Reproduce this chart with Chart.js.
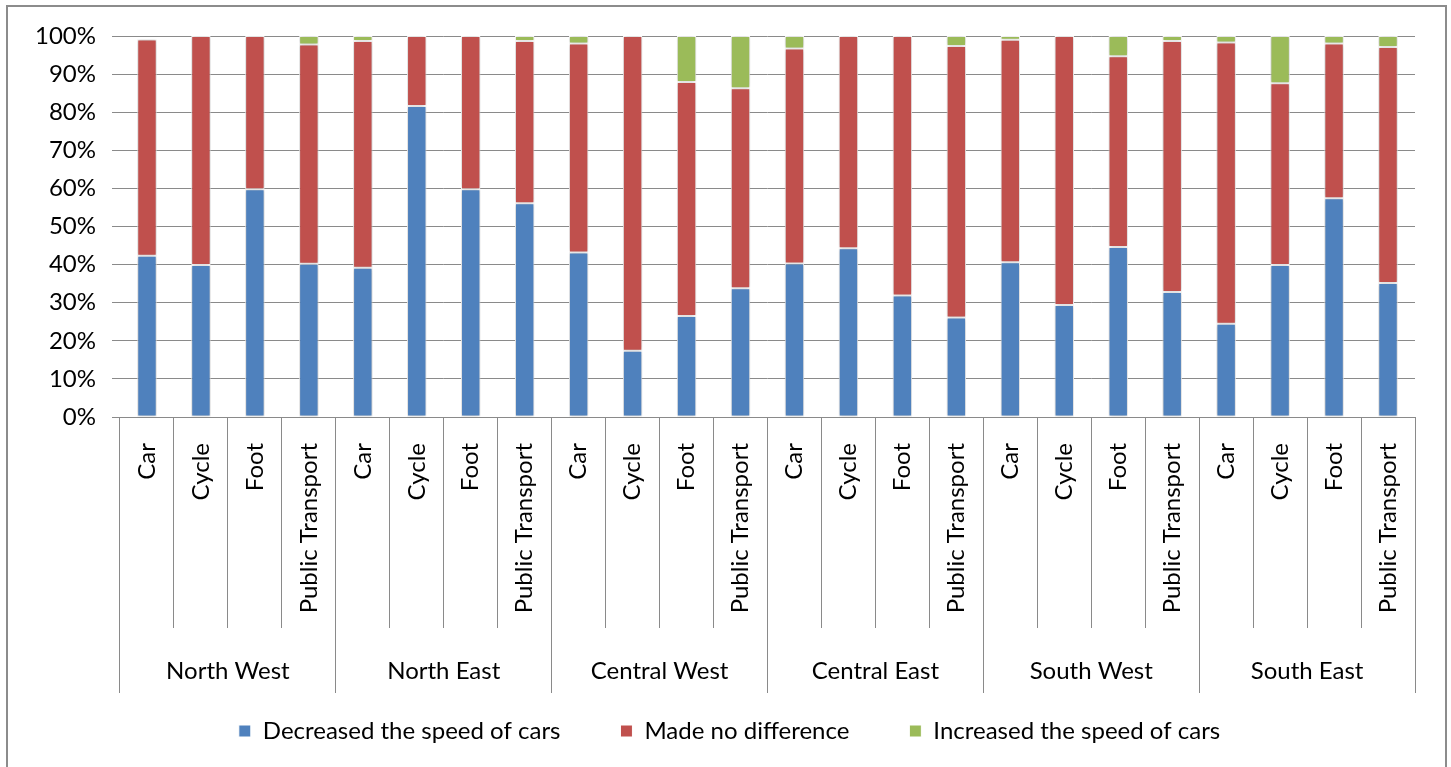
<!DOCTYPE html>
<html>
<head>
<meta charset="utf-8">
<script src="https://cdn.jsdelivr.net/npm/chart.js@4/dist/chart.umd.min.js"></script>
<style>
  html, body { margin: 0; padding: 0; background: #fff; overflow: hidden; }
  #wrap { position: relative; width: 1451px; height: 767px; }
  #frame {
    position: absolute; left: 6px; top: 5px; width: 1441px; height: 800px;
    border: 2px solid #8c8c8c; box-sizing: border-box;
  }
  canvas { position: absolute; left: 0; top: 0; }
</style>
</head>
<body>
<div id="wrap">
  <div id="frame"></div>
  <canvas id="chart" width="1451" height="767"></canvas>
</div>
<script>
// Regions and travel modes (each region shows the four modes)
const regions = ['North West', 'North East', 'Central West', 'Central East', 'South West', 'South East'];
const modes = ['Car', 'Cycle', 'Foot', 'Public Transport'];

// Share of respondents per bar (%), ordered region by region, mode by mode
const decreased = [
  42.3, 39.9, 59.8, 40.2,
  39.2, 81.6, 59.8, 56.1,
  43.2, 17.4, 26.5, 33.8,
  40.3, 44.3, 31.9, 26.1,
  40.6, 29.4, 44.6, 32.8,
  24.5, 39.9, 57.4, 35.2
];
const noDifference = [
  56.8, 60.1, 40.2, 57.6,
  59.5, 18.4, 40.2, 42.6,
  54.8, 82.6, 61.4, 52.5,
  56.4, 55.7, 68.1, 71.3,
  58.4, 70.6, 50.1, 65.9,
  73.8, 47.7, 40.6, 61.9
];
const increased = [
  0.0, 0.0, 0.0, 2.2,
  1.3, 0.0, 0.0, 1.3,
  2.0, 0.0, 12.1, 13.7,
  3.3, 0.0, 0.0, 2.6,
  1.0, 0.0, 5.3, 1.3,
  1.7, 12.4, 2.0, 2.9
];
const yTicks = [0, 10, 20, 30, 40, 50, 60, 70, 80, 90, 100];

const barLabels = [];
regions.forEach(() => modes.forEach(m => barLabels.push(m)));

const FONT = 'Lato, "Open Sans", sans-serif';
const FS = 24;
const GRID = '#8a8a8a';

// soft shadow around the bars
const barShadow = {
  id: 'barShadow',
  beforeDatasetsDraw(chart) {
    const c = chart.ctx;
    c.save();
    c.shadowColor = 'rgba(0,0,0,0.28)';
    c.shadowBlur = 4;
    c.shadowOffsetX = 0;
    c.shadowOffsetY = 0;
  },
  afterDatasetsDraw(chart) {
    chart.ctx.restore();
  }
};

// the legend keeps wide spacing between entries, sits a little higher
// and is centred on the whole frame rather than on the plot column
const legendPlace = {
  id: 'legendPlace',
  afterLayout(chart) {
    const lg = chart.legend;
    if (lg) {
      lg.top -= 34;
      lg.left += 22;
      lg.right += 22;
    }
  }
};

const barStyle = { borderColor: '#ffffff', borderWidth: 1, borderSkipped: false, barPercentage: 0.36, categoryPercentage: 1.0 };

new Chart(document.getElementById('chart'), {
  type: 'bar',
  data: {
    labels: barLabels,
    datasets: [
      Object.assign({ label: 'Decreased the speed of cars', data: decreased, backgroundColor: '#4F81BD' }, barStyle),
      Object.assign({ label: 'Made no difference', data: noDifference, backgroundColor: '#C0504D' }, barStyle),
      Object.assign({ label: 'Increased the speed of cars', data: increased, backgroundColor: '#9BBB59' }, barStyle)
    ]
  },
  plugins: [barShadow, legendPlace],
  options: {
    responsive: false,
    animation: false,
    layout: { padding: { left: 0, right: 36, top: 36, bottom: 0 } },
    plugins: {
      tooltip: { enabled: false },
      legend: {
        position: 'bottom',
        maxHeight: 74,
        labels: {
          boxWidth: 12, boxHeight: 12, padding: 60,
          color: '#000', font: { family: FONT, size: FS }
        }
      }
    },
    scales: {
      y: {
        stacked: true,
        min: 0, max: 100,
        afterBuildTicks(scale) { scale.ticks = yTicks.map(v => ({ value: v })); },
        afterFit(scale) { scale.width = 120; },
        ticks: {
          callback: v => v + '%',
          color: '#000', font: { family: FONT, size: FS }, padding: 16
        },
        grid: { color: GRID, lineWidth: 1, tickLength: 8, drawTicks: true },
        border: { display: false }
      },
      x: {
        stacked: true,
        weight: 0,
        afterFit(scale) { scale.height = 211; },
        ticks: {
          autoSkip: false, minRotation: 90, maxRotation: 90,
          padding: -185, color: '#000', font: { family: FONT, size: FS }
        },
        grid: { offset: true, drawOnChartArea: false, drawTicks: true, tickLength: 211, color: GRID },
        border: { display: true, color: GRID }
      },
      x2: {
        type: 'category',
        position: 'bottom',
        labels: regions,
        offset: true,
        weight: 1,
        afterFit(scale) { scale.height = 65; },
        ticks: {
          autoSkip: false, maxRotation: 0, minRotation: 0,
          padding: -36, color: '#000', font: { family: FONT, size: FS }
        },
        grid: { offset: true, drawOnChartArea: false, drawTicks: true, tickLength: 65, color: GRID },
        border: { display: false }
      }
    }
  }
});
</script>
</body>
</html>
